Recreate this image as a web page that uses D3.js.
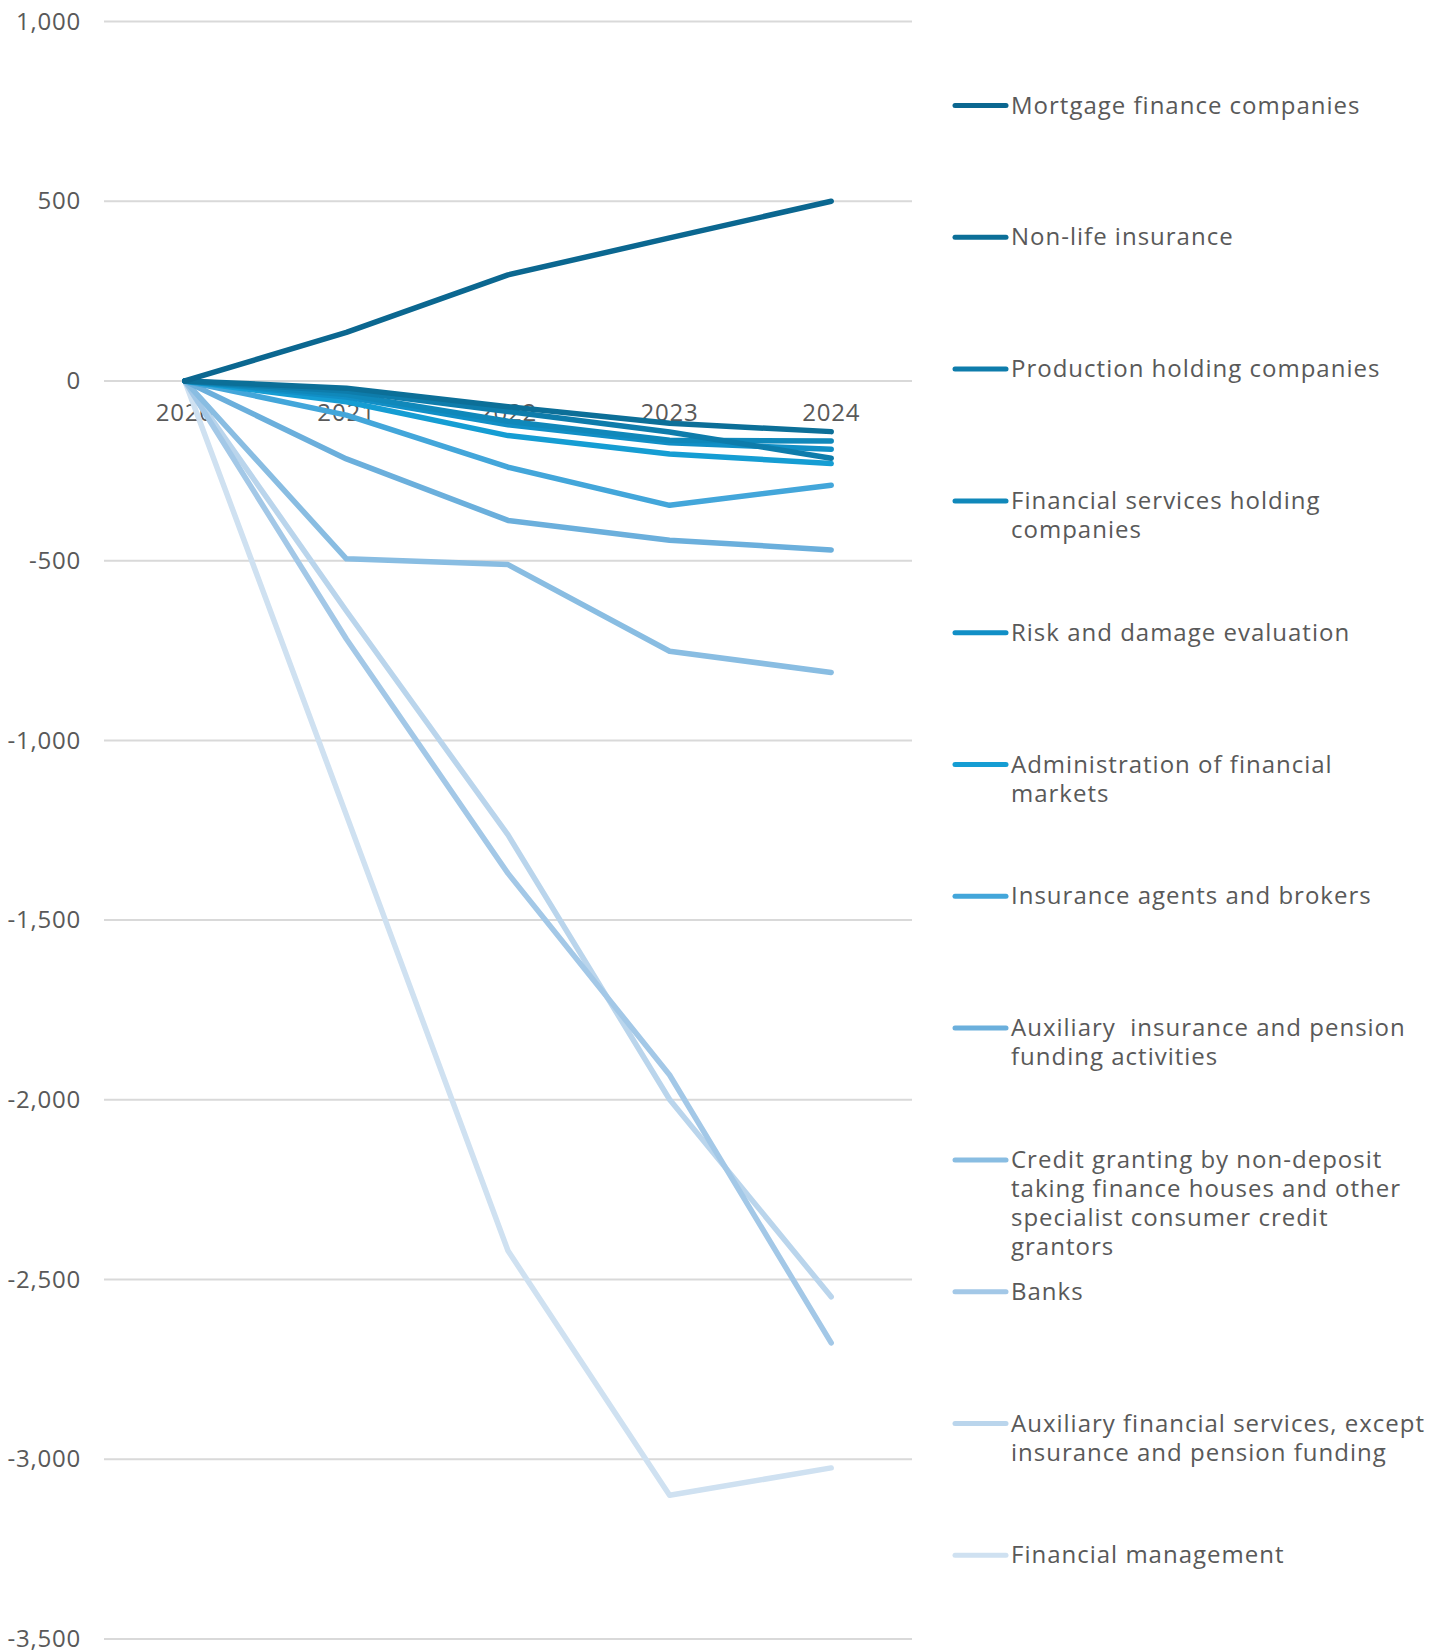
<!DOCTYPE html>
<html>
<head>
<meta charset="utf-8">
<script src="https://cdn.jsdelivr.net/npm/d3@7"></script>
<style>
  html, body { margin: 0; padding: 0; background: #ffffff; }
  svg text { font-family: "Open Sans", "Noto Sans", sans-serif; fill: #595959; }
  .legend text { white-space: pre; }
</style>
</head>
<body>
<svg id="chart" width="1435" height="1651"></svg>
<script>
// Years on the x axis
const years = ["2020", "2021", "2022", "2023", "2024"];

// Change in employment since 2020, by industry
const mortgageFinance      = [0, 135, 295, 398, 500];
const nonLifeInsurance     = [0, -20, -72, -118, -141];
const productionHolding    = [0, -28, -85, -142, -215];
const finServicesHolding   = [0, -38, -112, -165, -167];
const riskDamage           = [0, -45, -122, -172, -190];
const adminFinMarkets      = [0, -58, -152, -203, -230];
const insuranceAgents      = [0, -95, -240, -346, -290];
const auxInsurancePension  = [0, -217, -388, -443, -470];
const creditGranting       = [0, -495, -511, -752, -811];
const banks                = [0, -718, -1370, -1931, -2676];
const auxFinancialServices = [0, -640, -1263, -1999, -2548];
const financialManagement  = [0, -1208, -2420, -3100, -3024];

const seriesNames = [
  "Mortgage finance companies",
  "Non-life insurance",
  "Production holding companies",
  "Financial services holding\ncompanies",
  "Risk and damage evaluation",
  "Administration of financial\nmarkets",
  "Insurance agents and brokers",
  "Auxiliary  insurance and pension\nfunding activities",
  "Credit granting by non-deposit\ntaking finance houses and other\nspecialist consumer credit\ngrantors",
  "Banks",
  "Auxiliary financial services, except\ninsurance and pension funding",
  "Financial management"
];
const seriesValues = [
  mortgageFinance, nonLifeInsurance, productionHolding, finServicesHolding,
  riskDamage, adminFinMarkets, insuranceAgents, auxInsurancePension,
  creditGranting, banks, auxFinancialServices, financialManagement
];

// Y axis ticks
const yTicks = [1000, 500, 0, -500, -1000, -1500, -2000, -2500, -3000, -3500];

// Blue ramp, dark to light
const colors = [
  "#0b6790", "#0c6f98", "#0e7cab", "#1088ba", "#118fc6", "#159dd3",
  "#43a6da", "#6bafdc", "#89bde2", "#a3c8e7", "#bad5ec", "#cfe1f1"
];

const series = seriesNames.map((name, i) => ({
  name, color: colors[i],
  values: years.map((y, j) => ({ year: y, value: seriesValues[i][j] }))
}));

const svg = d3.select("#chart");

const x = d3.scaleBand().domain(years).range([104, 912]).padding(0);
const y = d3.scaleLinear().domain([-3500, 1000]).range([1639, 21.5]);
const cx = d => x(d) + x.bandwidth() / 2;

// Thousands separator with a plain hyphen for negatives
const fmt = d => d3.format(",.0f")(d).replace("\u2212", "-");

// Horizontal gridlines
svg.append("g")
  .selectAll("line")
  .data(yTicks)
  .join("line")
  .attr("x1", 104).attr("x2", 912)
  .attr("y1", d => y(d)).attr("y2", d => y(d))
  .attr("stroke", "#d9d9d9").attr("stroke-width", 2);

// Y axis labels
const yAxis = d3.axisLeft(y).tickValues(yTicks).tickSize(0).tickPadding(0)
  .tickFormat(fmt);
const gy = svg.append("g").attr("transform", "translate(81,0)").call(yAxis);
gy.select(".domain").remove();
gy.selectAll("text")
  .attr("font-size", 24).attr("letter-spacing", 0.8)
  .style("font-family", '"Open Sans", sans-serif').attr("fill", "#595959");

// X axis labels sit at the zero line
const xAxis = d3.axisBottom(x).tickSize(0).tickPadding(0);
const gx = svg.append("g").attr("transform", `translate(0,${y(0)})`).call(xAxis);
gx.select(".domain").remove();
gx.selectAll("text")
  .attr("font-size", 24).attr("letter-spacing", 0.8)
  .attr("dy", null).attr("y", 40)
  .style("font-family", '"Open Sans", sans-serif').attr("fill", "#595959");

// Lines, lightest first so darker lines end up on top
const line = d3.line().x(d => cx(d.year)).y(d => y(d.value));
svg.append("g")
  .selectAll("path")
  .data(series.slice().reverse())
  .join("path")
  .attr("d", d => line(d.values))
  .attr("fill", "none")
  .attr("stroke", d => d.color)
  .attr("stroke-width", 5.5)
  .attr("stroke-linecap", "round")
  .attr("stroke-linejoin", "round");

// Legend: entries evenly spaced down the right-hand side
const legendTop = 105.5, legendStep = 131.8;
const legend = svg.append("g").attr("class", "legend");
const items = legend.selectAll("g")
  .data(series)
  .join("g")
  .attr("transform", (d, i) => `translate(0,${legendTop + i * legendStep})`);
items.append("line")
  .attr("x1", 955).attr("x2", 1006)
  .attr("y1", 0).attr("y2", 0)
  .attr("stroke", d => d.color)
  .attr("stroke-width", 5)
  .attr("stroke-linecap", "round");
items.append("text")
  .attr("x", 1011)
  .attr("font-size", 24)
  .attr("letter-spacing", 1.0)
  .selectAll("tspan")
  .data(d => d.name.split("\n"))
  .join("tspan")
  .attr("x", 1011)
  .attr("y", (d, i) => 8 + i * 29)
  .text(d => d);
</script>
</body>
</html>
